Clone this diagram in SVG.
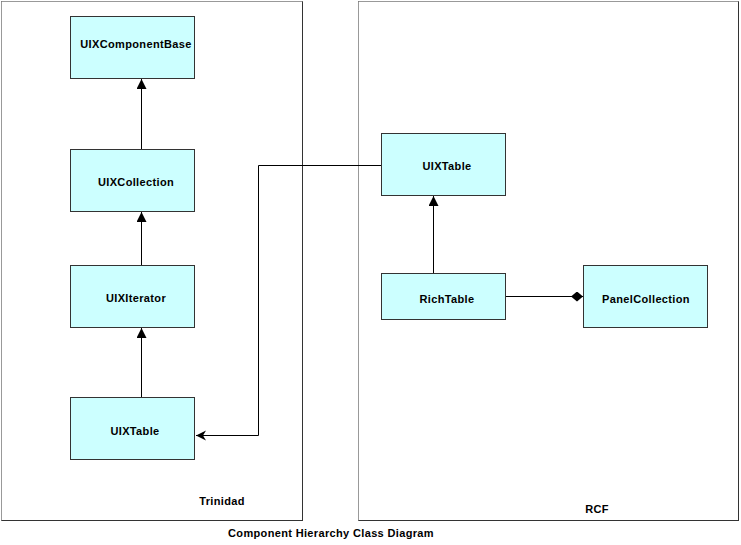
<svg xmlns="http://www.w3.org/2000/svg" width="741" height="545" viewBox="0 0 741 545">
<defs>
<style>
.frame{fill:#fff;stroke:#333;stroke-width:1}
.box{fill:#ccffff;stroke:#333;stroke-width:1}
.t{font-family:"Liberation Sans",Arial,sans-serif;font-size:11px;font-weight:bold;fill:#000;text-anchor:middle;letter-spacing:0.35px}
.c{fill:none;stroke:#000;stroke-width:1}
</style>
<marker id="tri" markerWidth="12" markerHeight="12" refX="10" refY="5" orient="auto" markerUnits="userSpaceOnUse">
<path d="M0,0 L10,5 L0,10 Z" fill="#000"/>
</marker>
<marker id="open" markerWidth="12" markerHeight="12" refX="10" refY="5" orient="auto" markerUnits="userSpaceOnUse">
<path d="M0,0 L10,5 L0,10 L3,5 Z" fill="#000"/>
</marker>
<marker id="dia" markerWidth="14" markerHeight="10" refX="12" refY="5" orient="auto" markerUnits="userSpaceOnUse">
<path d="M0,5 L6,0 L12,5 L6,10 Z" fill="#000"/>
</marker>
</defs>
<rect width="741" height="545" fill="#fff"/>
<g id="trinidad">
<rect class="frame" x="1.5" y="1.5" width="301" height="519"/>
<path d="M1.5,520.5 V1.5 H302.5" stroke="#999" fill="none"/>
<text class="t" x="222" y="505">Trinidad</text>
</g>
<g id="rcf">
<rect class="frame" x="358.5" y="1.5" width="380" height="519"/>
<path d="M358.5,520.5 V1.5 H738.5" stroke="#999" fill="none"/>
<text class="t" x="597" y="513">RCF</text>
</g>
<g id="connectors">
<line class="c" x1="141.5" y1="149" x2="141.5" y2="79" marker-end="url(#tri)"/>
<line class="c" x1="141.5" y1="265" x2="141.5" y2="212" marker-end="url(#tri)"/>
<line class="c" x1="141.5" y1="397" x2="141.5" y2="328" marker-end="url(#tri)"/>
<line class="c" x1="433.5" y1="273" x2="433.5" y2="196" marker-end="url(#tri)"/>
<polyline class="c" points="381,165.5 258.5,165.5 258.5,435.5 196,435.5" marker-end="url(#open)"/>
<line class="c" x1="506" y1="296.5" x2="583" y2="296.5" marker-end="url(#dia)"/>
</g>
<g id="UIXComponentBase">
<rect class="box" x="70.5" y="16.5" width="124" height="62"/>
<text class="t" x="136" y="48">UIXComponentBase</text>
</g>
<g id="UIXCollection">
<rect class="box" x="70.5" y="149.5" width="124" height="62"/>
<text class="t" x="136" y="186">UIXCollection</text>
</g>
<g id="UIXIterator">
<rect class="box" x="70.5" y="265.5" width="124" height="62"/>
<text class="t" x="136" y="302">UIXIterator</text>
</g>
<g id="UIXTableLeft">
<rect class="box" x="70.5" y="397.5" width="124" height="62"/>
<text class="t" x="135" y="435">UIXTable</text>
</g>
<g id="UIXTableRight">
<rect class="box" x="381.5" y="133.5" width="124" height="62"/>
<text class="t" x="447" y="170">UIXTable</text>
</g>
<g id="RichTable">
<rect class="box" x="381.5" y="273.5" width="124" height="46"/>
<text class="t" x="447" y="303">RichTable</text>
</g>
<g id="PanelCollection">
<rect class="box" x="583.5" y="265.5" width="124" height="62"/>
<text class="t" x="646" y="303">PanelCollection</text>
</g>
<text class="t" x="331" y="537">Component Hierarchy Class Diagram</text>
</svg>
